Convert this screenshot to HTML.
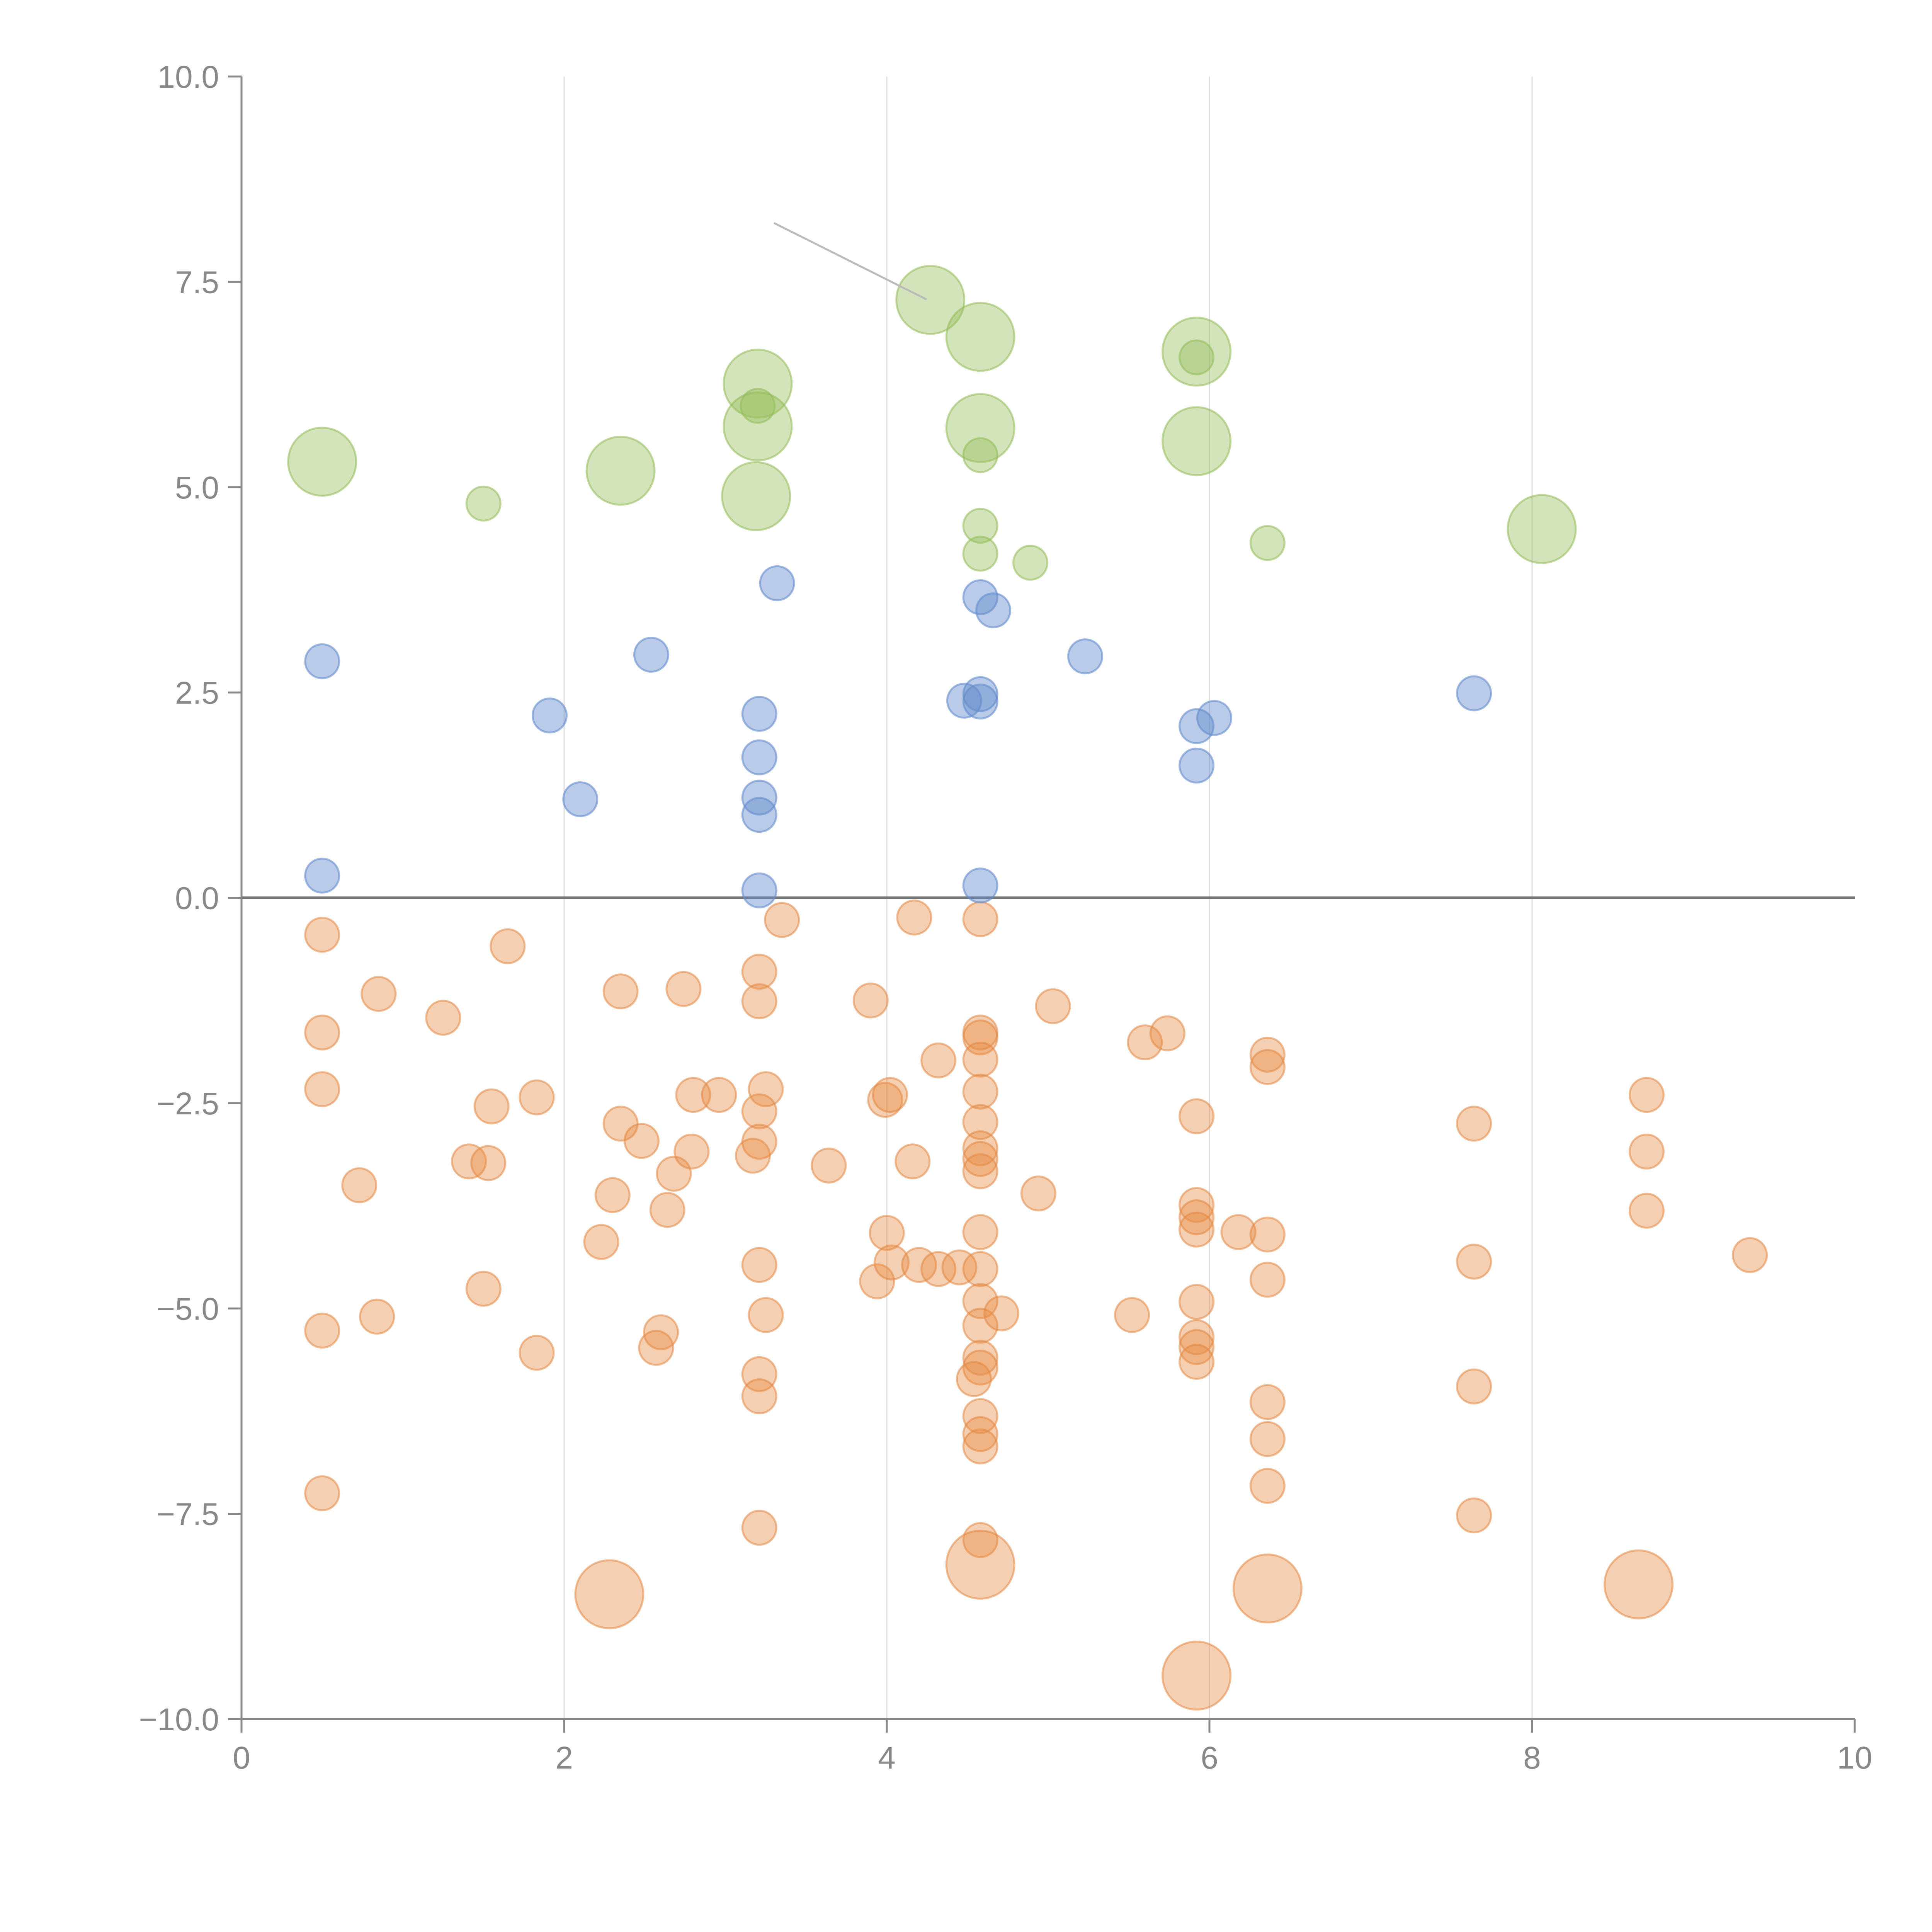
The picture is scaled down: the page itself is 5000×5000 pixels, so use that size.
<!DOCTYPE html>
<html><head><meta charset="utf-8"><style>
html,body{margin:0;padding:0;background:#fff;}
svg{display:block;font-family:"Liberation Sans",Arial,sans-serif;}
</style></head><body>
<svg id="chart" width="5000" height="5000" viewBox="0 0 5000 5000" xmlns="http://www.w3.org/2000/svg">
<g id="grid"></g>
<g id="axes"></g>
<g id="marks"></g>
</svg>
<script>
const xTicks=[0,2,4,6,8,10];
const yTicks=[10,7.5,5,2.5,0,-2.5,-5,-7.5,-10];
const yTickLabels=["10.0","7.5","5.0","2.5","0.0","\u22122.5","\u22125.0","\u22127.5","\u221210.0"];

const greenX=[0.50,1.50,2.35,3.20,3.20,3.20,3.19,4.27,4.58,4.58,4.58,4.58,4.58,4.89,5.92,5.92,5.92,6.36,8.06];
const greenY=[5.31,4.80,5.20,6.26,5.99,5.74,4.89,7.28,6.83,5.72,5.39,4.53,4.19,4.08,6.65,6.58,5.56,4.32,4.49];
const greenS=[2,1,2,2,1,2,2,2,2,2,1,1,1,1,2,1,2,1,2];

const blueX=[0.50,0.50,1.91,2.10,2.54,3.32,3.21,3.21,3.21,3.21,3.21,4.58,4.66,4.48,4.58,4.58,4.58,5.23,7.64,5.92,6.03,5.92];
const blueY=[2.88,0.27,2.22,1.20,2.96,3.83,2.24,1.71,1.22,1.01,0.09,3.66,3.50,2.40,2.48,2.39,0.15,2.94,2.49,2.09,2.19,1.61];

const orangeX=[0.50,0.50,0.50,0.50,0.50,0.73,0.85,0.84,1.25,1.41,1.53,1.55,1.50,1.65,1.83,1.83,2.23,2.30,2.35,2.35,2.48,2.57,2.60,2.64,2.68,2.74,2.79,2.80,2.96,3.17,3.21,3.21,3.25,3.21,3.21,3.21,3.25,3.21,3.21,3.21,3.35,3.64,3.90,3.94,3.99,4.02,4.00,4.03,4.17,4.16,4.20,4.32,4.32,4.45,4.58,4.58,4.58,4.58,4.58,4.58,4.58,4.58,4.58,4.58,4.58,4.58,4.58,4.58,4.58,4.54,4.58,4.58,4.58,4.58,4.71,4.94,5.03,5.52,5.60,5.74,5.92,5.92,5.92,5.92,5.92,5.92,5.92,5.92,6.18,6.36,6.36,6.36,6.36,6.36,6.36,6.36,7.64,7.64,7.64,7.64,8.71,8.71,8.71,9.35,2.28,4.58,6.36,8.66,5.92];
const orangeY=[-0.45,-1.64,-2.33,-5.27,-7.25,-3.50,-1.17,-5.10,-1.46,-3.21,-3.23,-2.54,-4.76,-0.59,-2.43,-5.54,-4.19,-3.62,-2.75,-1.14,-2.96,-5.48,-5.29,-3.80,-3.36,-1.11,-3.09,-2.40,-2.40,-3.14,-0.90,-1.26,-2.33,-2.60,-2.97,-4.47,-5.08,-5.80,-6.07,-7.67,-0.27,-3.26,-1.25,-4.67,-2.46,-2.40,-4.08,-4.44,-0.24,-3.21,-4.47,-1.98,-4.52,-4.50,-0.26,-1.64,-1.70,-1.97,-2.36,-2.73,-3.05,-3.18,-3.33,-4.07,-4.52,-4.91,-5.21,-5.60,-5.72,-5.86,-6.31,-6.53,-6.68,-7.82,-5.06,-3.60,-1.32,-5.08,-1.76,-1.65,-2.66,-3.74,-3.89,-4.04,-4.92,-5.35,-5.47,-5.65,-4.07,-1.91,-2.06,-4.10,-4.65,-6.14,-6.59,-7.16,-2.75,-4.43,-5.95,-7.52,-2.40,-3.09,-3.81,-4.35,-8.48,-8.12,-8.41,-8.36,-9.47];
const orangeS=orangeX.map((v,i)=>i>=104?2:1);

const X0=625,X1=4800,Y0=4449,Y1=198;
function sx(v){return X0+(v-0)/(10-0)*(X1-X0);}
function sy(v){return Y0-(v+10)/20*(Y0-Y1);}
const NS="http://www.w3.org/2000/svg";
function mk(tag,parent,attrs){const e=document.createElementNS(NS,tag);for(const k in attrs)e.setAttribute(k,attrs[k]);parent.appendChild(e);return e;}
const grid=document.getElementById('grid'),axes=document.getElementById('axes'),marks=document.getElementById('marks');

xTicks.forEach(t=>{
  if(t>0&&t<10){
    const g=mk('line',grid,{x1:sx(t),x2:sx(t),y1:Y1,y2:Y0,stroke:'#dddddd','stroke-width':3});
    
    
  }
  const tk=mk('line',axes,{x1:sx(t),x2:sx(t),y1:Y0,y2:Y0+35,stroke:'#888','stroke-width':5});
  
  
  const lb=mk('text',axes,{x:sx(t),y:Y0+128,'text-anchor':'middle','font-size':82,fill:'#888'});
  lb.textContent=t;
  
  
});
yTicks.forEach((t,i)=>{
  const tk=mk('line',axes,{x1:X0-35,x2:X0,y1:sy(t),y2:sy(t),stroke:'#888','stroke-width':5});
  
  
  const lb=mk('text',axes,{x:X0-58,y:sy(t)+29,'text-anchor':'end','font-size':82,fill:'#888'});
  lb.textContent=yTickLabels[i];
  
  
});
const ya=mk('line',axes,{x1:X0,x2:X0,y1:Y1,y2:Y0+35,stroke:'#888','stroke-width':5});


const xa=mk('line',axes,{x1:X0,x2:X1,y1:Y0,y2:Y0,stroke:'#888','stroke-width':5});


const zl=mk('line',axes,{x1:X0,x2:X1,y1:sy(0),y2:sy(0),stroke:'#777','stroke-width':7});



function series(xs,ys,ss,fill,stroke,name){
  xs.forEach((x,i)=>{
    const r=(ss?ss[i]:1)===2?88:44;
    const c=mk('circle',marks,{cx:sx(x),cy:sy(ys[i]),r:r,fill:fill,stroke:stroke,'stroke-width':5});
    
    
  });
}
series(orangeX,orangeY,orangeS,'rgba(230,140,70,0.42)','rgba(225,135,65,0.55)','orange-bubble');
series(blueX,blueY,null,'rgba(100,140,205,0.45)','rgba(100,140,205,0.6)','blue-bubble');
series(greenX,greenY,greenS,'rgba(150,190,90,0.42)','rgba(145,185,85,0.55)','green-bubble');

const pl=mk('line',marks,{x1:2003,y1:577,x2:2398,y2:775,stroke:'#bbbbbb','stroke-width':5});


</script>
</body></html>
